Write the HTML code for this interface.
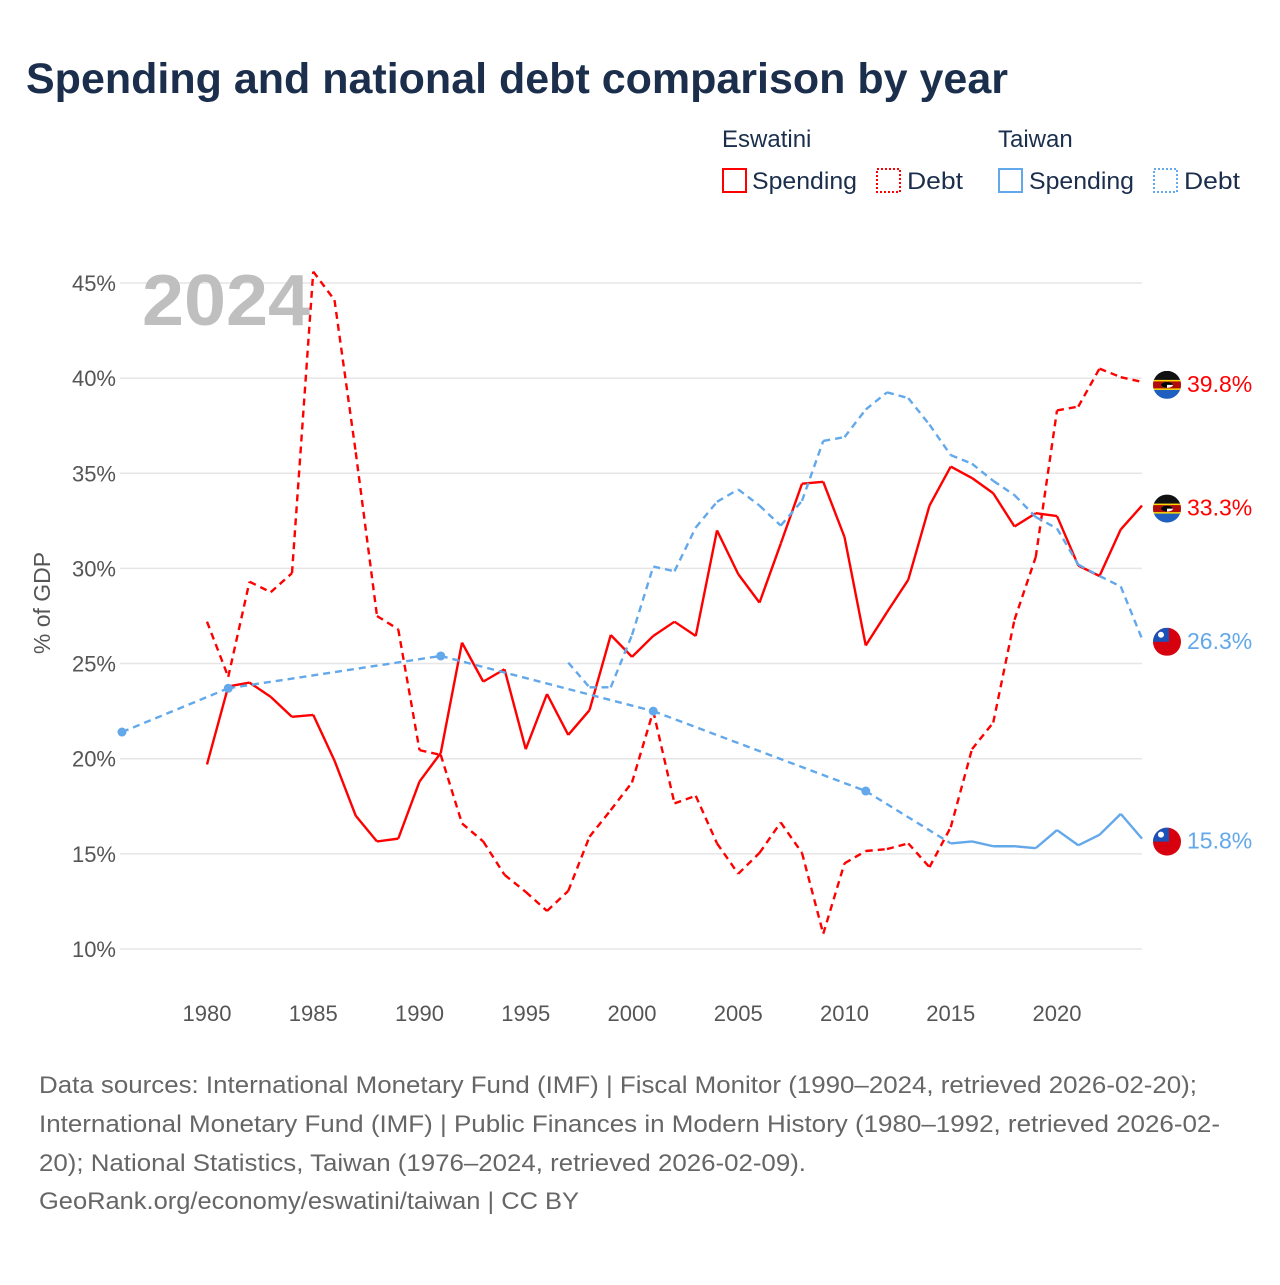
<!DOCTYPE html>
<html><head><meta charset="utf-8">
<style>
body{margin:0;background:#fff;}
svg text{font-family:"Liberation Sans",sans-serif;}
</style></head>
<body>
<svg id="chart" width="1280" height="1280" viewBox="0 0 1280 1280" xmlns="http://www.w3.org/2000/svg">
<defs>
<clipPath id="fc"><circle cx="0" cy="0" r="14"/></clipPath>
</defs>
<text x="26" y="93" font-size="43" font-weight="bold" fill="#1b2f4d">Spending and national debt comparison by year</text>
<g font-size="24" fill="#1b2f4d">
<text x="722" y="147" fill="#1b2f4d">Eswatini</text>
<text x="998" y="147" fill="#1b2f4d">Taiwan</text>
<g><rect x="723" y="169" width="23" height="23" fill="none" stroke="#f00" stroke-width="2"/><text x="752" y="189" fill="#1b2f4d" textLength="105" lengthAdjust="spacingAndGlyphs">Spending</text></g>
<g><rect x="877" y="169" width="23" height="23" fill="none" stroke="#f00" stroke-width="2" stroke-dasharray="2,2"/><text x="907" y="189" fill="#1b2f4d" textLength="56" lengthAdjust="spacingAndGlyphs">Debt</text></g>
<g><rect x="999" y="169" width="23" height="23" fill="none" stroke="#62a8ea" stroke-width="2"/><text x="1029" y="189" fill="#1b2f4d" textLength="105" lengthAdjust="spacingAndGlyphs">Spending</text></g>
<g><rect x="1154" y="169" width="23" height="23" fill="none" stroke="#62a8ea" stroke-width="2" stroke-dasharray="2,2"/><text x="1184" y="189" fill="#1b2f4d" textLength="56" lengthAdjust="spacingAndGlyphs">Debt</text></g>
</g>
<g id="grid"></g>
<g id="yticks"></g>
<g id="xticks"></g>
<text x="142" y="325" font-size="72" font-weight="bold" fill="#bfbfbf" textLength="168" lengthAdjust="spacingAndGlyphs">2024</text>
<text transform="translate(50,603) rotate(-90)" text-anchor="middle" font-size="23" fill="#555">% of GDP</text>
<g id="series"></g>
<g id="ends"></g>
<g font-size="24" fill="#666">
<text x="39" y="1093" textLength="1158" lengthAdjust="spacingAndGlyphs">Data sources: International Monetary Fund (IMF) | Fiscal Monitor (1990–2024, retrieved 2026-02-20);</text>
<text x="39" y="1132" textLength="1181" lengthAdjust="spacingAndGlyphs">International Monetary Fund (IMF) | Public Finances in Modern History (1980–1992, retrieved 2026-02-</text>
<text x="39" y="1171" textLength="767" lengthAdjust="spacingAndGlyphs">20); National Statistics, Taiwan (1976–2024, retrieved 2026-02-09).</text>
<text x="39" y="1209" textLength="540" lengthAdjust="spacingAndGlyphs">GeoRank.org/economy/eswatini/taiwan | CC BY</text>
</g>
</svg>
<script>
const yTicks=[10,15,20,25,30,35,40,45];
const xTicks=[1980,1985,1990,1995,2000,2005,2010,2015,2020];
const eswSpendYears=[1980,1981,1982,1983,1984,1985,1986,1987,1988,1989,1990,1991,1992,1993,1994,1995,1996,1997,1998,1999,2000,2001,2002,2003,2004,2005,2006,2007,2008,2009,2010,2011,2012,2013,2014,2015,2016,2017,2018,2019,2020,2021,2022,2023,2024];
const eswSpend=[19.7,23.8,24.0,23.25,22.2,22.3,19.9,17.0,15.65,15.8,18.8,20.3,26.1,24.05,24.7,20.5,23.4,21.25,22.55,26.5,25.35,26.45,27.2,26.45,32.0,29.7,28.2,31.3,34.45,34.55,31.65,25.95,27.7,29.4,33.3,35.35,34.75,33.95,32.2,32.9,32.75,30.15,29.6,32.05,33.3];
const eswDebtYears=eswSpendYears;
const eswDebt=[27.2,24.3,29.3,28.75,29.75,45.6,44.1,36.1,27.5,26.8,20.45,20.2,16.6,15.65,13.9,13.0,12.0,13.05,15.9,17.3,18.75,22.5,17.65,18.05,15.55,13.95,15.05,16.65,15.05,10.8,14.5,15.15,15.25,15.55,14.3,16.4,20.5,21.9,27.3,30.6,38.3,38.5,40.5,40.05,39.8];
const twSpendYears=[1976,1981,1991,2001,2011,2015,2016,2017,2018,2019,2020,2021,2022,2023,2024];
const twSpend=[21.4,23.7,25.4,22.5,18.3,15.55,15.65,15.4,15.4,15.3,16.25,15.45,16.0,17.1,15.8];
const twDebtYears=[1997,1998,1999,2000,2001,2002,2003,2004,2005,2006,2007,2008,2009,2010,2011,2012,2013,2014,2015,2016,2017,2018,2019,2020,2021,2022,2023,2024];
const twDebt=[25.05,23.75,23.75,26.5,30.1,29.85,32.15,33.5,34.15,33.3,32.25,33.55,36.7,36.9,38.35,39.25,38.95,37.55,35.95,35.5,34.6,33.85,32.7,32.1,30.2,29.6,29.05,26.3];

const NS='http://www.w3.org/2000/svg';
const xS=y=>207+(y-1980)*21.25;
const yS=v=>949-(v-10)*19.03;
function mk(tag,attrs,parent){const e=document.createElementNS(NS,tag);for(const k in attrs)e.setAttribute(k,attrs[k]);parent.appendChild(e);return e;}
const grid=document.getElementById('grid'),yt=document.getElementById('yticks'),xt=document.getElementById('xticks'),ser=document.getElementById('series'),ends=document.getElementById('ends');
yTicks.forEach(t=>{
  const l=mk('line',{x1:120,x2:1142,y1:yS(t),y2:yS(t),stroke:'#e6e6e6','stroke-width':1.5},grid);
  
  
  const tx=mk('text',{x:116,y:yS(t)+8,'text-anchor':'end','font-size':22,fill:'#555'},yt);
  tx.textContent=t+'%';
  
  
});
xTicks.forEach(t=>{
  const tx=mk('text',{x:xS(t),y:1021,'text-anchor':'middle','font-size':22,fill:'#555'},xt);
  tx.textContent=t;
  
  
});
function draw(years,vals,color,dashed,name){
  const g=mk('g',{},ser);
  
  
  for(let i=0;i<years.length-1;i++){
    const gap=years[i+1]-years[i]>1;
    const seg=mk('line',{x1:xS(years[i]),y1:yS(vals[i]),x2:xS(years[i+1]),y2:yS(vals[i+1]),stroke:color,'stroke-width':2.4,'stroke-linecap':'butt'},g);
    if(dashed||gap)seg.setAttribute('stroke-dasharray','7,5');
    
    
  }
  for(let i=0;i<years.length;i++){
    const pg=i==0||years[i]-years[i-1]>1, ng=i==years.length-1||years[i+1]-years[i]>1;
    if(pg&&ng){
      const c=mk('circle',{cx:xS(years[i]),cy:yS(vals[i]),r:4.5,fill:color},g);
      
      
    }
  }
}
draw(eswDebtYears,eswDebt,'#ff0000',true,'eswatini-debt-line');
draw(eswSpendYears,eswSpend,'#ff0000',false,'eswatini-spending-line');
draw(twDebtYears,twDebt,'#62a8ea',true,'taiwan-debt-line');
draw(twSpendYears,twSpend,'#62a8ea',false,'taiwan-spending-line');
function flag(kind,v,color,name){
  const g=mk('g',{transform:'translate(1167,'+(yS(v)+3)+')'},ends);
  
  
  const f=mk('g',{'clip-path':'url(#fc)'},g);
  if(kind==='sz'){
    mk('rect',{x:-14,y:-14,width:28,height:28,fill:'#1f5fc0'},f);
    mk('rect',{x:-14,y:-14,width:28,height:9,fill:'#111'},f);
    mk('rect',{x:-14,y:-5,width:28,height:10,fill:'#ffd900'},f);
    mk('rect',{x:-14,y:-3.5,width:28,height:7,fill:'#b10c0c'},f);
    mk('ellipse',{cx:0,cy:0,rx:6,ry:3,fill:'#fff'},f);
    mk('path',{d:'M-6 0 A6 3 0 0 1 6 0 L0 0 Z M-6 0 A6 3 0 0 0 0 3 L0 0Z',fill:'#000'},f);
  }else{
    mk('rect',{x:-14,y:-14,width:28,height:28,fill:'#d7000f'},f);
    mk('rect',{x:-14,y:-14,width:16,height:14,fill:'#1b52b8'},f);
    mk('circle',{cx:-6,cy:-7,r:3,fill:'#fff'},f);
  }
  const t=mk('text',{x:1187,y:yS(v)+10,'font-size':23,fill:color},ends);
  t.textContent=v.toFixed(1)+'%';
  
  
}
flag('sz',eswDebt[eswDebt.length-1],'#ff0000','eswatini-debt');
flag('sz',eswSpend[eswSpend.length-1],'#ff0000','eswatini-spending');
flag('tw',twDebt[twDebt.length-1],'#62a8ea','taiwan-debt');
flag('tw',twSpend[twSpend.length-1],'#62a8ea','taiwan-spending');
</script>
</body></html>
